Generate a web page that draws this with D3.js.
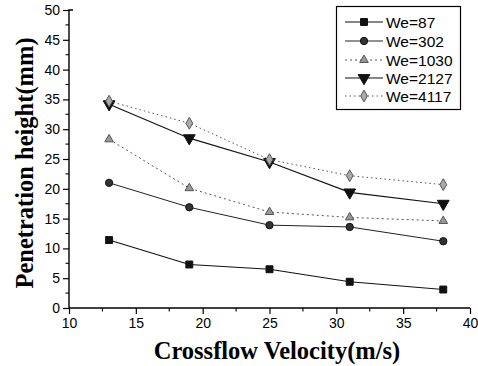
<!DOCTYPE html>
<html>
<head>
<meta charset="utf-8">
<script src="https://cdn.jsdelivr.net/npm/d3@7/dist/d3.min.js"></script>
<style>
  html, body { margin: 0; padding: 0; background: #fff; }
  svg { display: block; }
</style>
</head>
<body>
<svg id="chart" width="478" height="366"></svg>
<script>
// Crossflow velocity (m/s) at which penetration height was measured
const velocities = [13, 19, 25, 31, 38];

// Penetration height (mm) for each Weber number
const we87   = [11.4, 7.3, 6.5, 4.4, 3.1];
const we302  = [21.0, 16.9, 13.9, 13.6, 11.2];
const we1030 = [28.3, 20.1, 16.1, 15.2, 14.6];
const we2127 = [34.2, 28.5, 24.5, 19.4, 17.5];
const we4117 = [34.7, 31.0, 24.9, 22.2, 20.7];

const seriesNames = ["We=87", "We=302", "We=1030", "We=2127", "We=4117"];
const seriesValues = [we87, we302, we1030, we2127, we4117];

const xTicks = [10, 15, 20, 25, 30, 35, 40];
const yTicks = [0, 5, 10, 15, 20, 25, 30, 35, 40, 45, 50];

// Drawing style for each series
const styles = [
  { dash: null,  width: 1.1, stroke: "#111", symbol: d3.symbolSquare,   size: 48, fill: "#111", mstroke: "#111", rot: 0 },
  { dash: null,  width: 1.0, stroke: "#222", symbol: d3.symbolCircle,   size: 42, fill: "#333", mstroke: "#111", rot: 0 },
  { dash: "2,3", width: 1.0, stroke: "#555", symbol: d3.symbolTriangle, size: 32, fill: "#999", mstroke: "#555", rot: 0 },
  { dash: null,  width: 1.1, stroke: "#111", symbol: d3.symbolTriangle, size: 60, fill: "#111", mstroke: "#111", rot: 180 },
  { dash: "1.5,3", width: 1.0, stroke: "#555", symbol: d3.symbolDiamond, size: 40, fill: "#aaa", mstroke: "#555", rot: 0 }
];

const svg = d3.select("#chart");
const plotLeft = 69, plotRight = 470, plotTop = 10, plotBottom = 308;

const x = d3.scaleLinear().domain([10, 40]).range([plotLeft, plotRight]);
const y = d3.scaleLinear().domain([0, 50]).range([plotBottom, plotTop]);

// Axes
const xAxis = d3.axisBottom(x).tickValues(xTicks).tickSize(6).tickPadding(4).tickFormat(d3.format("d"));
const yAxis = d3.axisLeft(y).tickValues(yTicks).tickSize(6).tickPadding(3).tickFormat(d3.format("d"));

const gx = svg.append("g").attr("transform", `translate(0,${plotBottom})`).call(xAxis);
const gy = svg.append("g").attr("transform", `translate(${plotLeft},0)`).call(yAxis);

[gx, gy].forEach(g => {
  g.select(".domain").attr("stroke", "#000").attr("stroke-width", 1.4);
  g.selectAll(".tick line").attr("stroke", "#000").attr("stroke-width", 1.2);
  g.selectAll(".tick text")
    .attr("font-family", "Arial, 'Liberation Sans', sans-serif")
    .attr("font-size", 14)
    .attr("fill", "#000");
});
gx.select(".domain").attr("d", `M${plotLeft},0H${plotRight}`);
gy.select(".domain").attr("d", `M0,${plotBottom}V${plotTop}H4`);

// Minor ticks
const minorX = d3.range(12.5, 40, 5);
const minorY = d3.range(2.5, 50, 5);
svg.append("g").selectAll("line").data(minorX).join("line")
  .attr("x1", d => x(d)).attr("x2", d => x(d))
  .attr("y1", plotBottom).attr("y2", plotBottom + 3.5)
  .attr("stroke", "#000").attr("stroke-width", 1.1);
svg.append("g").selectAll("line").data(minorY).join("line")
  .attr("x1", plotLeft - 3.5).attr("x2", plotLeft)
  .attr("y1", d => y(d)).attr("y2", d => y(d))
  .attr("stroke", "#000").attr("stroke-width", 1.1);

// Axis titles
svg.append("text")
  .attr("x", 277).attr("y", 359)
  .attr("text-anchor", "middle")
  .attr("font-family", "'Liberation Serif', 'Times New Roman', serif")
  .attr("font-weight", "bold")
  .attr("font-size", 24.5)
  .text("Crossflow Velocity(m/s)");

svg.append("text")
  .attr("transform", "translate(33,163) rotate(-90)")
  .attr("text-anchor", "middle")
  .attr("font-family", "'Liberation Serif', 'Times New Roman', serif")
  .attr("font-weight", "bold")
  .attr("font-size", 24.5)
  .text("Penetration height(mm)");

// Series lines and markers
const line = d3.line().x(d => x(d[0])).y(d => y(d[1]));

seriesValues.forEach((vals, i) => {
  const st = styles[i];
  const pts = velocities.map((v, j) => [v, vals[j]]);
  svg.append("path")
    .datum(pts)
    .attr("d", line)
    .attr("fill", "none")
    .attr("stroke", st.stroke)
    .attr("stroke-width", st.width)
    .attr("stroke-dasharray", st.dash);
  const sym = d3.symbol().type(st.symbol).size(st.size);
  svg.append("g").selectAll("path").data(pts).join("path")
    .attr("d", sym)
    .attr("transform", d => `translate(${x(d[0])},${y(d[1])}) rotate(${st.rot})`)
    .attr("fill", st.fill)
    .attr("stroke", st.mstroke)
    .attr("stroke-width", 1);
});

// Legend
const lg = svg.append("g");
lg.append("rect")
  .attr("x", 336.5).attr("y", 6.5).attr("width", 124).attr("height", 103)
  .attr("fill", "#fff").attr("stroke", "#000").attr("stroke-width", 1.2);

const rowY = [22, 41, 60, 78, 96];
seriesNames.forEach((name, i) => {
  const st = styles[i];
  const yy = rowY[i];
  lg.append("line")
    .attr("x1", 345).attr("x2", 383).attr("y1", yy).attr("y2", yy)
    .attr("stroke", st.stroke).attr("stroke-width", st.width)
    .attr("stroke-dasharray", st.dash);
  lg.append("path")
    .attr("d", d3.symbol().type(st.symbol).size(st.size)())
    .attr("transform", `translate(364,${yy}) rotate(${st.rot})`)
    .attr("fill", st.fill).attr("stroke", st.mstroke).attr("stroke-width", 1);
  lg.append("text")
    .attr("x", 386).attr("y", yy + 5.5)
    .attr("font-family", "Arial, 'Liberation Sans', sans-serif")
    .attr("font-size", 15.5)
    .attr("fill", "#000")
    .text(name);
});
</script>
</body>
</html>
